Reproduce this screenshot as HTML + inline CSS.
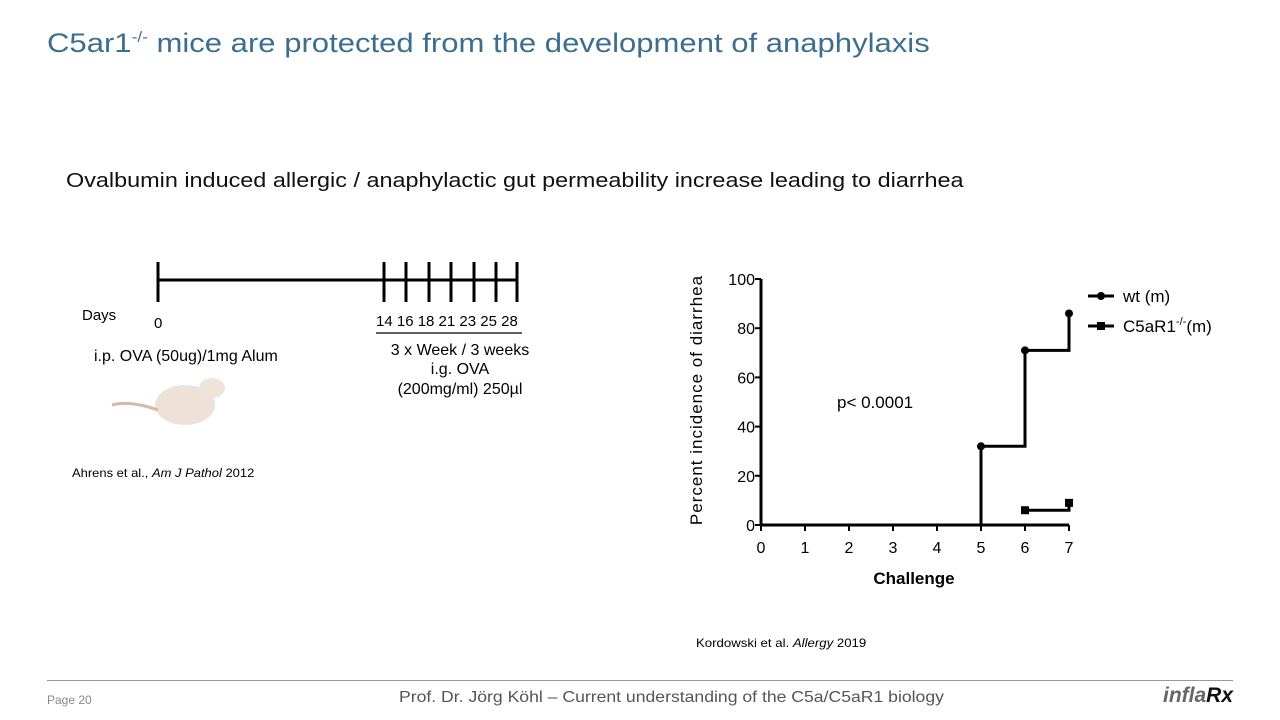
<!DOCTYPE html>
<html><head><meta charset="utf-8"><style>
body{margin:0;width:1280px;height:720px;background:#fff;position:relative;overflow:hidden;font-family:"Liberation Sans",sans-serif}
.a{position:absolute;white-space:nowrap}
.s{transform-origin:0 0}
</style></head><body>
<div class="a s" style="left:47px;top:28px;font-size:27px;color:#3c6e8f;transform:scaleX(1.15)">C5ar1<sup style="font-size:15px">-/-</sup> mice are protected from the development of anaphylaxis</div>
<div class="a s" style="left:66px;top:170px;font-size:20px;color:#111;transform:scaleX(1.17)">Ovalbumin induced allergic / anaphylactic gut permeability increase leading to diarrhea</div>

<svg class="a" style="left:0;top:0" width="640" height="500">
<g stroke="#000" stroke-width="3">
<line x1="158" y1="280" x2="517" y2="280"/>
<line x1="158" y1="262" x2="158" y2="302"/>
<line x1="384" y1="262" x2="384" y2="302"/><line x1="406" y1="262" x2="406" y2="302"/><line x1="429" y1="262" x2="429" y2="302"/><line x1="451" y1="262" x2="451" y2="302"/><line x1="474" y1="262" x2="474" y2="302"/><line x1="496" y1="262" x2="496" y2="302"/><line x1="517" y1="262" x2="517" y2="302"/>
</g>
<line x1="376" y1="333" x2="522" y2="333" stroke="#000" stroke-width="1.2"/>
<g font-family="Liberation Sans" font-size="15" fill="#000">
<text x="82" y="320">Days</text><text x="154" y="328">0</text>
<text x="376" y="326">14 16 18 21 23 25 28</text>
<text x="94" y="361" font-size="16">i.p. OVA (50ug)/1mg Alum</text>
<text x="460" y="355" text-anchor="middle" font-size="16">3 x Week / 3 weeks</text>
<text x="460" y="374" text-anchor="middle" font-size="16">i.g. OVA</text>
<text x="460" y="394" text-anchor="middle" font-size="16">(200mg/ml) 250µl</text>
</g>
<g>
<ellipse cx="185" cy="405" rx="30" ry="20" fill="#eee2d8"/>
<ellipse cx="212" cy="388" rx="13" ry="10" fill="#efe4da"/>
<path d="M158 410 Q130 400 112 405" stroke="#d8b8a8" stroke-width="3" fill="none"/>
</g>
</svg>
<div class="a s" style="left:72px;top:466px;font-size:12px;transform:scaleX(1.08)">Ahrens et al., <i>Am J Pathol</i> 2012</div>

<svg id="chart" class="a" style="left:0;top:0" width="1280" height="620"></svg>
<div class="a s" style="left:696px;top:636px;font-size:12px;transform:scaleX(1.1)">Kordowski et al. <i>Allergy</i> 2019</div>

<div class="a" style="left:47px;top:680px;width:1186px;height:1px;background:#999"></div>
<div class="a" style="left:47px;top:693px;font-size:12px;color:#888">Page 20</div>
<div class="a s" style="left:399px;top:689px;font-size:16px;color:#555;transform:scaleX(1.1)">Prof. Dr. Jörg Köhl – Current understanding of the C5a/C5aR1 biology</div>
<div class="a" style="left:1163px;top:684px;font-size:21px;font-style:italic;font-weight:bold;color:#666">infla<span style="color:#111">Rx</span></div>

<script>
const xTicks=[0,1,2,3,4,5,6,7];
const yTicks=[0,20,40,60,80,100];
const wtX=[5,6,7];
const wtY=[32,71,86];
const koX=[6,7];
const koY=[6,9];
const X=v=>761+v*44, Y=v=>525-v*2.46;
const svg=document.getElementById('chart');
const NS='http://www.w3.org/2000/svg';
function mk(t,a,txt){const e=document.createElementNS(NS,t);for(const k in a)e.setAttribute(k,a[k]);if(txt!=null)e.textContent=txt;svg.appendChild(e);return e;}
let e=mk('line',{x1:X(0),y1:Y(0),x2:X(7),y2:Y(0),stroke:'#000','stroke-width':3});

e=mk('line',{x1:X(0),y1:Y(0),x2:X(0),y2:Y(100),stroke:'#000','stroke-width':3});

xTicks.forEach(t=>{mk('line',{x1:X(t),y1:Y(0),x2:X(t),y2:Y(0)+6,stroke:'#000','stroke-width':2});
 e=mk('text',{x:X(t),y:553,'text-anchor':'middle','font-size':16,'font-family':'Liberation Sans'},t);
 });
yTicks.forEach(t=>{mk('line',{x1:X(0)-6,y1:Y(t),x2:X(0),y2:Y(t),stroke:'#000','stroke-width':2});
 e=mk('text',{x:755,y:Y(t)+6,'text-anchor':'end','font-size':16,'font-family':'Liberation Sans'},t);
 });
e=mk('text',{x:914,y:584,'text-anchor':'middle','font-size':17,'font-weight':'bold','font-family':'Liberation Sans'},'Challenge');

e=mk('text',{x:0,y:0,transform:'translate(702,400) rotate(-90)','text-anchor':'middle','font-size':17,'letter-spacing':'1','font-family':'Liberation Sans'},'Percent incidence of diarrhea');

e=mk('text',{x:837,y:408,'font-size':17,'font-family':'Liberation Sans'},'p< 0.0001');

function step(xs,ys,start){let d='M'+X(xs[0])+' '+Y(start);for(let i=0;i<xs.length;i++){d+=' L'+X(xs[i])+' '+Y(ys[i]);if(i<xs.length-1)d+=' L'+X(xs[i+1])+' '+Y(ys[i]);}return d;}
e=mk('path',{d:step(wtX,wtY,0),stroke:'#000','stroke-width':3,fill:'none'});

wtX.forEach((x,i)=>{e=mk('circle',{cx:X(x),cy:Y(wtY[i]),r:4,fill:'#000'});
 });
e=mk('path',{d:step(koX,koY,koY[0]),stroke:'#000','stroke-width':3,fill:'none'});

koX.forEach((x,i)=>{e=mk('rect',{x:X(x)-4,y:Y(koY[i])-4,width:8,height:8,fill:'#000'});
 });
mk('line',{x1:1088,y1:296,x2:1114,y2:296,stroke:'#000','stroke-width':3});
mk('circle',{cx:1101,cy:296,r:4,fill:'#000'});
e=mk('text',{x:1123,y:302,'font-size':17,'font-family':'Liberation Sans'},'wt (m)');

mk('line',{x1:1088,y1:326,x2:1114,y2:326,stroke:'#000','stroke-width':3});
mk('rect',{x:1097,y:322,width:8,height:8,fill:'#000'});
e=mk('text',{x:1123,y:332,'font-size':17,'font-family':'Liberation Sans'});
e.innerHTML='C5aR1<tspan font-size="11" dy="-7">-/-</tspan><tspan dy="7">(m)</tspan>';

</script>
</body></html>
